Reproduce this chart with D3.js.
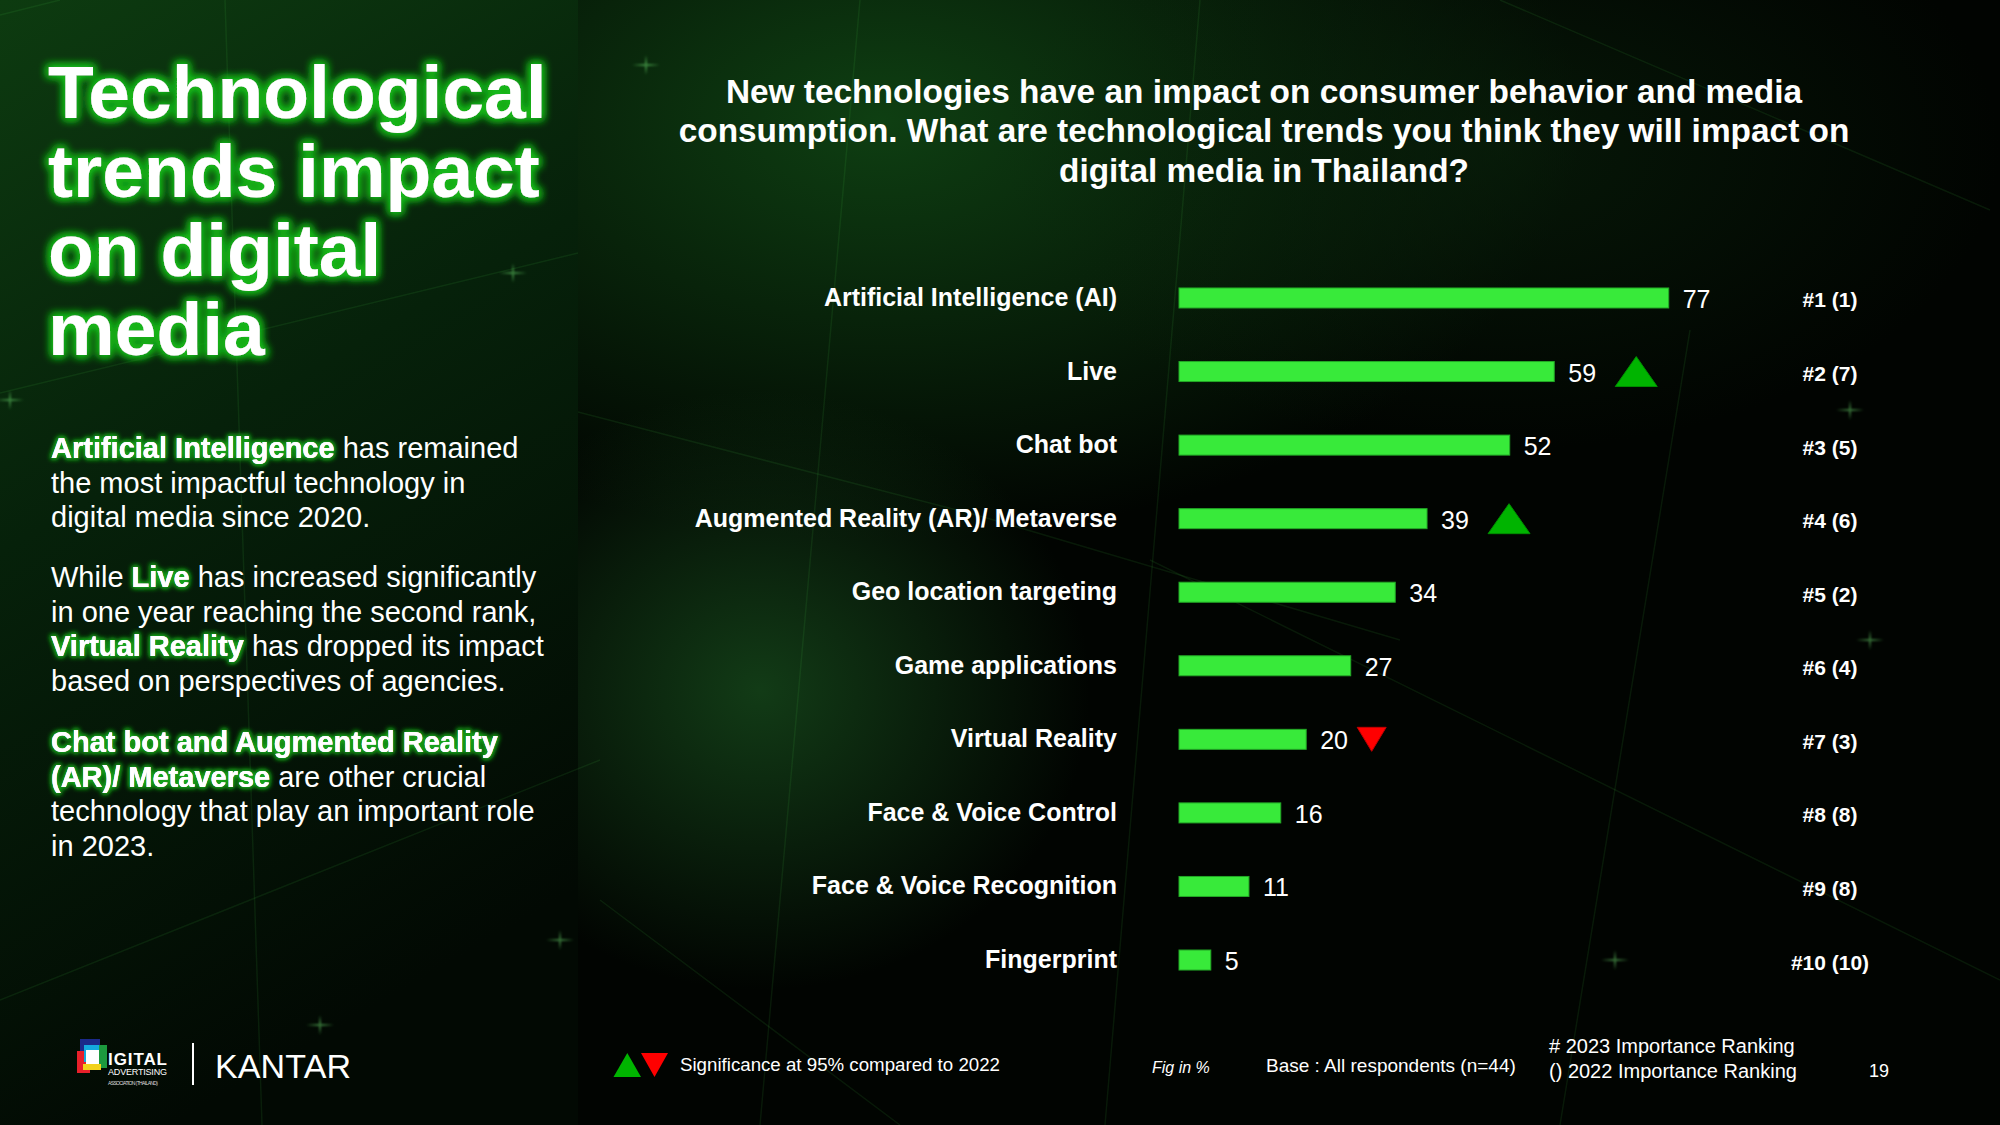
<!DOCTYPE html>
<html>
<head>
<meta charset="utf-8">
<script src="https://cdn.jsdelivr.net/npm/d3@7"></script>
<style>
  body { margin: 0; background: #000; }
  svg { display: block; font-family: "Liberation Sans", Arial, sans-serif; }
</style>
</head>
<body>
<script>
/* DATA */
const categories = [
  "Artificial Intelligence (AI)", "Live", "Chat bot", "Augmented Reality (AR)/ Metaverse",
  "Geo location targeting", "Game applications", "Virtual Reality",
  "Face & Voice Control", "Face & Voice Recognition", "Fingerprint"
];
const values = [77, 59, 52, 39, 34, 27, 20, 16, 11, 5];
const rank2023 = ["#1", "#2", "#3", "#4", "#5", "#6", "#7", "#8", "#9", "#10"];
const rank2022 = ["(1)", "(7)", "(5)", "(6)", "(2)", "(4)", "(3)", "(8)", "(8)", "(10)"];
const significance = [null, "up", null, "up", null, null, "down", null, null, null];

const titleLines = ["Technological", "trends impact", "on digital", "media"];
const questionLines = [
  "New technologies have an impact on consumer behavior and media",
  "consumption. What are technological trends you think they will impact on",
  "digital media in Thailand?"
];
// each line is a list of [text, highlighted]
const bodyParagraphs = [
  [[["Artificial Intelligence", true], [" has remained", false]],
   [["the most impactful technology in", false]],
   [["digital media since 2020.", false]]],
  [[["While ", false], ["Live", true], [" has increased significantly", false]],
   [["in one year reaching the second rank,", false]],
   [["Virtual Reality", true], [" has dropped its impact", false]],
   [["based on perspectives of agencies.", false]]],
  [[["Chat bot and Augmented Reality", true]],
   [["(AR)/ Metaverse", true], [" are other crucial", false]],
   [["technology that play an important role", false]],
   [["in 2023.", false]]]
];

/* CONSTANTS */
const width = 2000, height = 1125;
const barColor = "#38ea3a";

const svg = d3.select("body").append("svg")
  .attr("width", width)
  .attr("height", height);

const defs = svg.append("defs");

// glow for the green-outlined white text
const glow = defs.append("filter").attr("id", "glow")
  .attr("x", "-20%").attr("y", "-40%").attr("width", "140%").attr("height", "180%");
glow.append("feMorphology").attr("in", "SourceAlpha").attr("operator", "dilate").attr("radius", 2).attr("result", "thick");
glow.append("feGaussianBlur").attr("in", "thick").attr("stdDeviation", 4).attr("result", "blur");
glow.append("feFlood").attr("flood-color", "#19b81c");
glow.append("feComposite").attr("in2", "blur").attr("operator", "in").attr("result", "g");
const gm = glow.append("feMerge");
gm.append("feMergeNode").attr("in", "g");
gm.append("feMergeNode").attr("in", "g");
gm.append("feMergeNode").attr("in", "SourceGraphic");

const glowSmall = defs.append("filter").attr("id", "glowSmall")
  .attr("x", "-20%").attr("y", "-50%").attr("width", "140%").attr("height", "200%");
glowSmall.append("feMorphology").attr("in", "SourceAlpha").attr("operator", "dilate").attr("radius", 1).attr("result", "thick");
glowSmall.append("feGaussianBlur").attr("in", "thick").attr("stdDeviation", 2.5).attr("result", "blur");
glowSmall.append("feFlood").attr("flood-color", "#1aa51d");
glowSmall.append("feComposite").attr("in2", "blur").attr("operator", "in").attr("result", "g");
const gs = glowSmall.append("feMerge");
gs.append("feMergeNode").attr("in", "g");
gs.append("feMergeNode").attr("in", "g");
gs.append("feMergeNode").attr("in", "SourceGraphic");

const blurF = defs.append("filter").attr("id", "soft");
blurF.append("feGaussianBlur").attr("stdDeviation", 1.2);

// background gradients
const leftGrad = defs.append("linearGradient").attr("id", "leftGrad")
  .attr("x1", 0).attr("y1", 0).attr("x2", 0.3).attr("y2", 1);
leftGrad.append("stop").attr("offset", "0%").attr("stop-color", "#0d3b10");
leftGrad.append("stop").attr("offset", "45%").attr("stop-color", "#06210a");
leftGrad.append("stop").attr("offset", "100%").attr("stop-color", "#020903");

function radial(id, color, op) {
  const g = defs.append("radialGradient").attr("id", id);
  g.append("stop").attr("offset", "0%").attr("stop-color", color).attr("stop-opacity", op);
  g.append("stop").attr("offset", "100%").attr("stop-color", color).attr("stop-opacity", 0);
}
radial("glowTop", "#0f4213", 0.95);
radial("glowMid", "#15451a", 0.85);
radial("glowRight", "#0a250c", 0.6);

/* BACKGROUND */
const bg = svg.append("g");
bg.append("rect").attr("width", width).attr("height", height).attr("fill", "#010401");
bg.append("ellipse").attr("cx", 880).attr("cy", 120).attr("rx", 700).attr("ry", 420).attr("fill", "url(#glowTop)");
bg.append("ellipse").attr("cx", 760).attr("cy", 690).attr("rx", 330).attr("ry", 300).attr("fill", "url(#glowMid)");
bg.append("ellipse").attr("cx", 1500).attr("cy", 150).attr("rx", 500).attr("ry", 300).attr("fill", "url(#glowRight)");
bg.append("rect").attr("width", 578).attr("height", height).attr("fill", "url(#leftGrad)");

// faint light streaks and sparkles
const streaks = [
  [0, 393, 578, 253], [0, 15, 60, 0], [578, 412, 980, 516], [980, 516, 1400, 640],
  [1200, 0, 1105, 1125], [860, 0, 760, 1125], [225, 0, 262, 1125],
  [0, 1000, 600, 760], [1150, 560, 2000, 980], [1500, 0, 1990, 210],
  [1690, 330, 1560, 1125], [600, 900, 900, 1125]
];
bg.selectAll("line.streak").data(streaks).join("line")
  .attr("class", "streak")
  .attr("x1", d => d[0]).attr("y1", d => d[1]).attr("x2", d => d[2]).attr("y2", d => d[3])
  .attr("stroke", "#4fd452").attr("stroke-opacity", 0.1).attr("stroke-width", 1.5);

const sparkles = [[513, 273], [10, 400], [646, 65], [560, 940], [1850, 410], [1870, 640], [1615, 960], [320, 1025]];
const sp = bg.selectAll("g.sparkle").data(sparkles).join("g")
  .attr("class", "sparkle")
  .attr("transform", d => `translate(${d[0]},${d[1]})`)
  .attr("filter", "url(#soft)");
sp.append("path").attr("d", "M-14,0 L0,-1.3 L14,0 L0,1.3 Z M0,-10 L1.3,0 L0,10 L-1.3,0 Z")
  .attr("fill", "#7dff80").attr("opacity", 0.4);

/* LEFT TITLE */
svg.append("g").selectAll("text").data(titleLines).join("text")
  .attr("x", 48)
  .attr("y", (d, i) => 118 + i * 79)
  .attr("font-size", 75)
  .attr("font-weight", "bold")
  .attr("fill", "#fff")
  .attr("filter", "url(#glow)")
  .text(d => d);

/* LEFT BODY TEXT */
const bodyStarts = [458, 587, 752];
const bodyLead = 34.5;
const body = svg.append("g").attr("font-size", 29);
bodyParagraphs.forEach((para, pi) => {
  para.forEach((line, li) => {
    const y = bodyStarts[pi] + li * bodyLead;
    // glow layer, only highlighted runs visible
    if (line.some(r => r[1])) {
      const t = body.append("text").attr("x", 51).attr("y", y).attr("filter", "url(#glowSmall)");
      line.forEach(r => t.append("tspan")
        .attr("font-weight", r[1] ? "bold" : "normal")
        .attr("fill", r[1] ? "#fff" : "none")
        .text(r[0]));
    }
    const t2 = body.append("text").attr("x", 51).attr("y", y).attr("fill", "#fff");
    line.forEach(r => t2.append("tspan")
      .attr("font-weight", r[1] ? "bold" : "normal")
      .text(r[0]));
  });
});

/* QUESTION */
svg.append("g").selectAll("text").data(questionLines).join("text")
  .attr("x", 1264)
  .attr("y", (d, i) => 103 + i * 39.3)
  .attr("text-anchor", "middle")
  .attr("font-size", 33.4)
  .attr("font-weight", "bold")
  .attr("fill", "#fff")
  .text(d => d);

/* SCALES */
const rows = categories.map((c, i) => ({
  cat: c, value: values[i], r23: rank2023[i], r22: rank2022[i], sig: significance[i]
}));

const xScale = d3.scaleLinear().domain([0, 100]).range([1179, 1815]);
const yScale = d3.scaleBand()
  .domain(categories)
  .range([261.2, 996.8])
  .paddingInner(0.728)
  .paddingOuter(0.364);
const cy = d => yScale(d.cat) + yScale.bandwidth() / 2;

const chart = svg.append("g");

// category labels
chart.selectAll("text.cat").data(rows).join("text")
  .attr("class", "cat")
  .attr("x", 1117)
  .attr("y", d => cy(d) - 1)
  .attr("dominant-baseline", "central")
  .attr("text-anchor", "end")
  .attr("font-size", 25)
  .attr("font-weight", "bold")
  .attr("fill", "#fff")
  .text(d => d.cat);

// bars
chart.selectAll("rect.bar").data(rows).join("rect")
  .attr("class", "bar")
  .attr("x", xScale(0))
  .attr("y", d => yScale(d.cat))
  .attr("width", d => xScale(d.value) - xScale(0))
  .attr("height", yScale.bandwidth())
  .attr("fill", barColor)
  .attr("stroke", "#23a826")
  .attr("stroke-width", 1);

// value labels
chart.selectAll("text.val").data(rows).join("text")
  .attr("class", "val")
  .attr("x", d => xScale(d.value) + 14)
  .attr("y", d => cy(d) + 1)
  .attr("dominant-baseline", "central")
  .attr("font-size", 25)
  .attr("fill", "#fff")
  .text(d => d.value);

// significance markers
chart.selectAll("path.sig").data(rows.filter(d => d.sig)).join("path")
  .attr("class", "sig")
  .attr("d", d => {
    const x0 = xScale(d.value), c = cy(d);
    if (d.sig === "up") {
      const a = x0 + 61;
      return `M${a},${c + 15} L${a + 21},${c - 15} L${a + 42},${c + 15} Z`;
    }
    const a = x0 + 51;
    return `M${a},${c - 12} L${a + 29},${c - 12} L${a + 14.5},${c + 12} Z`;
  })
  .attr("fill", d => d.sig === "up" ? "#00b400" : "#ff0000")
  .attr("stroke", d => d.sig === "up" ? "#008c00" : "#c00000")
  .attr("stroke-width", 1);

// rank labels
chart.selectAll("text.rank").data(rows).join("text")
  .attr("class", "rank")
  .attr("x", 1830)
  .attr("y", d => cy(d) + 2)
  .attr("dominant-baseline", "central")
  .attr("text-anchor", "middle")
  .attr("font-size", 21)
  .attr("font-weight", "bold")
  .attr("fill", "#fff")
  .text(d => `${d.r23} ${d.r22}`);

/* FOOTER */
const foot = svg.append("g");

// DAAT logo (blocks)
const logo = foot.append("g");
logo.append("rect").attr("x", 80).attr("y", 1039).attr("width", 20).attr("height", 14).attr("fill", "#1b2a8a");
logo.append("rect").attr("x", 77).attr("y", 1051).attr("width", 13).attr("height", 22).attr("fill", "#e8202a");
logo.append("rect").attr("x", 84).attr("y", 1045).attr("width", 21).attr("height", 17).attr("fill", "#14a9df");
logo.append("rect").attr("x", 99).attr("y", 1045).attr("width", 8).attr("height", 23).attr("fill", "#1c9a3e");
logo.append("rect").attr("x", 83).attr("y", 1064).attr("width", 18).attr("height", 6).attr("fill", "#f2d21b");
logo.append("rect").attr("x", 86).attr("y", 1050).attr("width", 13).attr("height", 14).attr("fill", "#fff");
logo.append("text").attr("x", 108).attr("y", 1065).attr("font-size", 17).attr("font-weight", "bold")
  .attr("fill", "#fff").attr("textLength", 59).text("IGITAL");
logo.append("text").attr("x", 108).attr("y", 1075).attr("font-size", 9)
  .attr("fill", "#fff").attr("textLength", 59).text("ADVERTISING");
logo.append("text").attr("x", 108).attr("y", 1085).attr("font-size", 5)
  .attr("fill", "#ddd").attr("textLength", 50).text("ASSOCIATION (THAILAND)");

foot.append("line").attr("x1", 193).attr("x2", 193).attr("y1", 1043).attr("y2", 1085)
  .attr("stroke", "#fff").attr("stroke-width", 2);
foot.append("text").attr("x", 215).attr("y", 1078).attr("font-size", 34)
  .attr("fill", "#fff").attr("textLength", 136).text("KANTAR");

// legend for significance
foot.append("path").attr("d", "M613.5,1077 L627.3,1053 L641,1077 Z").attr("fill", "#00b400");
foot.append("path").attr("d", "M641,1053 L668,1053 L654.5,1077 Z").attr("fill", "#ff0000");
foot.append("text").attr("x", 680).attr("y", 1071).attr("font-size", 18.7).attr("fill", "#fff")
  .text("Significance at 95% compared to 2022");

foot.append("text").attr("x", 1152).attr("y", 1073).attr("font-size", 16).attr("font-style", "italic")
  .attr("fill", "#fff").text("Fig in %");
foot.append("text").attr("x", 1266).attr("y", 1072).attr("font-size", 19).attr("fill", "#fff")
  .text("Base : All respondents (n=44)");
foot.append("text").attr("x", 1549).attr("y", 1053).attr("font-size", 20).attr("fill", "#fff")
  .text("# 2023 Importance Ranking");
foot.append("text").attr("x", 1549).attr("y", 1078).attr("font-size", 20).attr("fill", "#fff")
  .text("() 2022 Importance Ranking");
foot.append("text").attr("x", 1869).attr("y", 1077).attr("font-size", 18).attr("fill", "#fff")
  .text("19");
</script>
</body>
</html>
